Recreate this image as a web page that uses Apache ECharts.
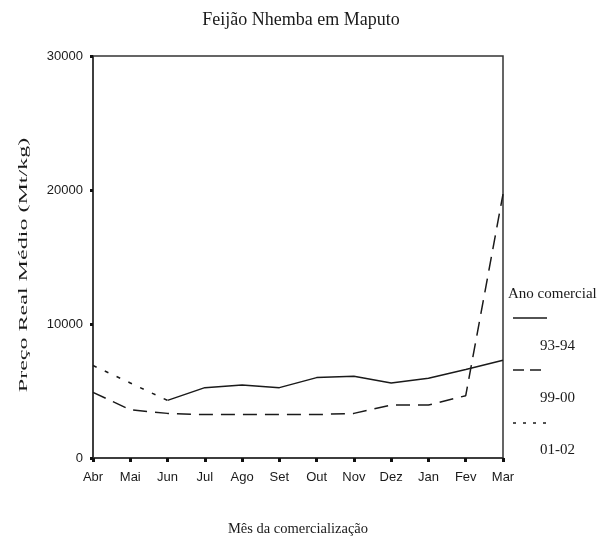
<!DOCTYPE html>
<html><head><meta charset="utf-8">
<script src="https://cdn.jsdelivr.net/npm/echarts@6/dist/echarts.min.js"></script>
<style>html,body{margin:0;padding:0;background:#fff}#c{width:612px;height:542px}</style>
</head><body><div id="c"></div>
<script>
const months = ['Abr','Mai','Jun','Jul','Ago','Set','Out','Nov','Dez','Jan','Fev','Mar'];
const s9394 = [null, null, 4300, 5250, 5450, 5250, 6000, 6100, 5600, 5950, 6600, 7300];
const s9900 = [4900, 3600, 3330, 3240, 3240, 3240, 3240, 3330, 3950, 3950, 4650, 19700];
const s0102 = [6900, 5600, 4300, null, null, null, null, null, null, null, null, null];
const yTicks = [0, 10000, 20000, 30000];
const seriesNames = ['93-94', '99-00', '01-02'];

const chart = echarts.init(document.getElementById('c'));
const serif = 'Liberation Serif, DejaVu Serif, serif';
const sans = 'Liberation Sans, Arial, sans-serif';
const ink = '#1a1a1a';
chart.setOption({
  animation: false,
  title: { text: 'Feijão Nhemba em Maputo', left: 296, top: 6, textAlign: 'center',
    textStyle: { fontFamily: serif, fontWeight: 'normal', fontSize: 18, color: ink } },
  grid: { left: 93, right: 109, top: 56, bottom: 81, show: true, borderColor: '#333', borderWidth: 1.5 },
  xAxis: {
    type: 'category', data: months, boundaryGap: false,
    name: 'Mês da comercialização', nameLocation: 'middle', nameGap: 64,
    nameTextStyle: { fontFamily: serif, fontSize: 14.5, color: ink },
    axisLine: { lineStyle: { color: '#333', width: 1.5 } },
    axisTick: { alignWithLabel: true, length: 4, lineStyle: { width: 3, color: '#111' } },
    axisLabel: { fontFamily: sans, fontSize: 13, color: ink, margin: 13, interval: 0 },
    splitLine: { show: false }
  },
  yAxis: {
    type: 'value', min: yTicks[0], max: yTicks[yTicks.length - 1], interval: 10000,
    axisLine: { show: true, lineStyle: { color: '#333', width: 1.5 } },
    axisTick: { show: true, length: 3, lineStyle: { width: 3, color: '#111' } },
    axisLabel: { fontFamily: sans, fontSize: 13, color: ink, margin: 10, formatter: v => String(v) },
    splitLine: { show: false }
  },
  series: [
    { name: seriesNames[0], type: 'line', data: s9394, symbol: 'none',
      lineStyle: { color: ink, width: 1.5, type: 'solid' } },
    { name: seriesNames[1], type: 'line', data: s9900, symbol: 'none',
      lineStyle: { color: ink, width: 1.5, type: [14, 8] } },
    { name: seriesNames[2], type: 'line', data: s0102, symbol: 'none',
      lineStyle: { color: ink, width: 1.5, type: [4, 9] } }
  ],
  graphic: [
    { type: 'text', x: 24, y: 265, rotation: Math.PI / 2, scaleX: 1.85,
      style: { text: 'Preço Real Médio (Mt/kg)', fontFamily: serif, fontSize: 13, fill: ink,
        align: 'center', verticalAlign: 'middle' } },
    { type: 'text', left: 508, top: 287, style: { text: 'Ano comercial', fontFamily: serif, fontSize: 15, fill: ink } },
    { type: 'line', shape: { x1: 513, y1: 318, x2: 547, y2: 318 }, style: { stroke: ink, lineWidth: 1.5 } },
    { type: 'text', left: 540, top: 339, style: { text: seriesNames[0], fontFamily: serif, fontSize: 15, fill: ink } },
    { type: 'line', shape: { x1: 513, y1: 370, x2: 547, y2: 370 }, style: { stroke: ink, lineWidth: 1.5, lineDash: [11, 6] } },
    { type: 'text', left: 540, top: 391, style: { text: seriesNames[1], fontFamily: serif, fontSize: 15, fill: ink } },
    { type: 'line', shape: { x1: 513, y1: 423, x2: 547, y2: 423 }, style: { stroke: ink, lineWidth: 1.5, lineDash: [3, 7] } },
    { type: 'text', left: 540, top: 443, style: { text: seriesNames[2], fontFamily: serif, fontSize: 15, fill: ink } }
  ]
});
</script></body></html>
